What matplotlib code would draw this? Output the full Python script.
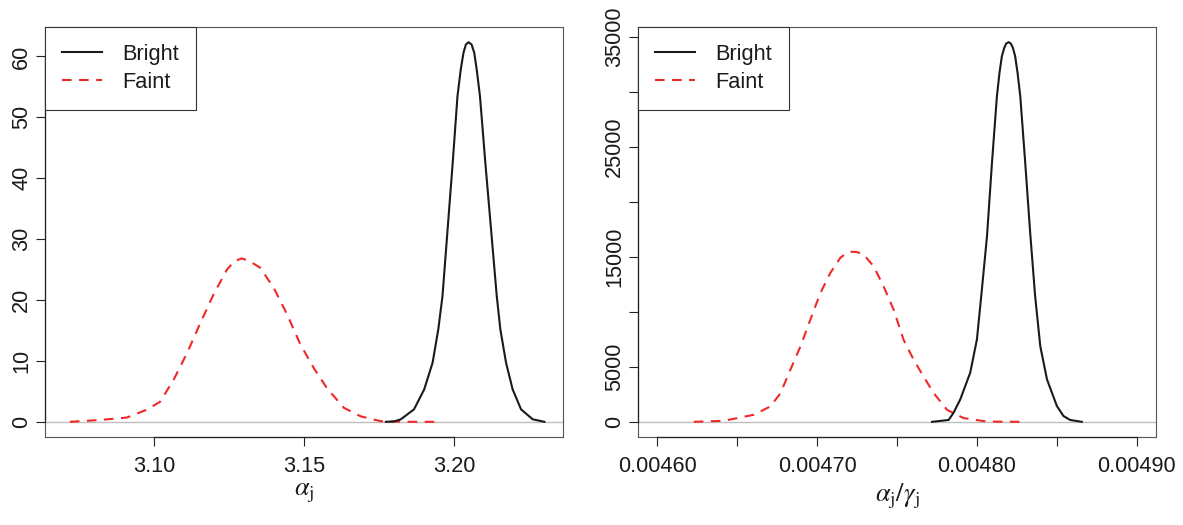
import matplotlib
matplotlib.use("Agg")
import matplotlib.pyplot as plt
from matplotlib.ticker import FixedLocator, FixedFormatter

# ---------------- data ----------------
# Left panel: density of alpha_j
alpha_faint_x = [3.0719, 3.0819, 3.0909, 3.0976, 3.1020, 3.1065, 3.1110, 3.1154,
                 3.1198, 3.1243, 3.1268, 3.1293, 3.1321, 3.1354, 3.1399, 3.1444,
                 3.1488, 3.1533, 3.1577, 3.1633, 3.1689, 3.1756, 3.1850, 3.1938]
alpha_faint_y = [0.0, 0.3, 0.7, 2.0, 3.3, 6.9, 11.3, 16.2, 20.9, 25.0, 26.4, 26.84,
                 26.3, 25.3, 22.0, 17.6, 12.7, 8.8, 5.5, 2.3, 0.9, 0.1, 0.0, 0.0]
alpha_bright_x = [3.1773, 3.1800, 3.1823, 3.1867, 3.1901, 3.1929, 3.1948, 3.1962,
                  3.1979, 3.1996, 3.2012, 3.2023, 3.2032, 3.2040, 3.2049, 3.2059,
                  3.2068, 3.2076, 3.2087, 3.2105, 3.2124, 3.2143, 3.2155, 3.2174,
                  3.2196, 3.2224, 3.2263, 3.2302]
alpha_bright_y = [0.0, 0.05, 0.41, 2.05, 5.33, 9.71, 15.18, 20.65, 31.6, 42.5, 53.5,
                  57.9, 60.6, 61.97, 62.35, 61.97, 60.6, 57.9, 53.5, 42.5, 31.6,
                  20.65, 15.18, 9.71, 5.33, 2.05, 0.41, 0.0]

# Right panel: density of alpha_j / gamma_j
ratio_faint_x = [0.0046229, 0.0046416, 0.0046604, 0.0046708, 0.0046771, 0.0046833,
                 0.0046896, 0.0046958, 0.0047021, 0.0047083, 0.0047146, 0.0047188,
                 0.0047219, 0.0047250, 0.0047291, 0.0047354, 0.0047416, 0.0047479,
                 0.0047541, 0.0047604, 0.0047666, 0.0047729, 0.0047813, 0.0047916,
                 0.0048063, 0.0048291]
ratio_faint_y = [0, 90, 640, 1400, 2600, 4740, 6860, 9300, 11730, 13550, 14935, 15390,
                 15481, 15445, 15220, 14160, 12330, 10210, 7470, 5650, 4130, 2620,
                 1090, 340, 20, 0]
ratio_bright_x = [0.0047719, 0.0047823, 0.0047854, 0.0047896, 0.0047958, 0.0048000,
                  0.0048031, 0.0048063, 0.0048094, 0.0048125, 0.0048141, 0.0048156,
                  0.0048171, 0.0048183, 0.0048198, 0.0048212, 0.0048225, 0.0048239,
                  0.0048254, 0.0048271, 0.0048302, 0.0048333, 0.0048364, 0.0048396,
                  0.0048438, 0.0048500, 0.0048541, 0.0048583, 0.0048656]
ratio_bright_y = [0, 167, 834, 2047, 4472, 7504, 12052, 16900, 23576, 29638, 31761,
                  33276, 34034, 34428, 34549, 34428, 34034, 33276, 31761, 29638,
                  23576, 17209, 11442, 6897, 3866, 1440, 530, 167, 0]

series_labels = ["Bright", "Faint"]

left_xticks = [3.10, 3.15, 3.20]
left_xticklabels = ["3.10", "3.15", "3.20"]
left_yticks = [0, 10, 20, 30, 40, 50, 60]
left_yticklabels = ["0", "10", "20", "30", "40", "50", "60"]
left_xlim_data = (3.07, 3.23)

right_xticks = [0.00460, 0.00465, 0.00470, 0.00475, 0.00480, 0.00485, 0.00490]
right_xticklabels = ["0.00460", "", "0.00470", "", "0.00480", "", "0.00490"]
right_yticks = [0, 5000, 10000, 15000, 20000, 25000, 30000, 35000]
right_yticklabels = ["0", "5000", "", "15000", "", "25000", "", "35000"]
right_xlim_data = (0.0046, 0.0049)

xlabels = [r"$\alpha_\mathrm{j}$", r"$\alpha_\mathrm{j}/\gamma_\mathrm{j}$"]

# ---------------- styling ----------------
plt.rcParams["font.family"] = ["Liberation Sans", "DejaVu Sans"]
plt.rcParams["mathtext.fontset"] = "stix"
FS = 15.7
RED = "#F02828"
BOXC = "#555555"

W, H = 1183, 525
fig = plt.figure(figsize=(W / 100, H / 100), dpi=100)
ax1 = fig.add_axes([45 / W, 1 - 437 / H, 518 / W, 410 / H])
ax2 = fig.add_axes([638 / W, 1 - 437 / H, 518 / W, 410 / H])


def r_lim(lo, hi):
    pad = 0.04 * (hi - lo)
    return lo - pad, hi + pad


def style(ax, fx, fy, bx, by, xt, xtl, yt, ytl, xlim_data, xlabel):
    ax.axhline(0, color="#BEBEBE", lw=1.0, zorder=1)
    ax.plot(bx, by, color="#1a1a1a", lw=1.5, solid_joinstyle="round",
            label=series_labels[0], zorder=3)
    ax.plot(fx, fy, color=RED, lw=1.5, linestyle=(0, (4.6, 3.6)),
            label=series_labels[1], zorder=2)
    ax.set_xlim(*r_lim(*xlim_data))
    ymax = max(max(by), max(fy))
    ax.set_ylim(*r_lim(0, ymax))
    ax.xaxis.set_major_locator(FixedLocator(xt))
    ax.xaxis.set_major_formatter(FixedFormatter(xtl))
    ax.yaxis.set_major_locator(FixedLocator(yt))
    ax.yaxis.set_major_formatter(FixedFormatter(ytl))
    ax.tick_params(axis="both", direction="out", length=6.8, width=0.8,
                   color="#222222", labelsize=FS, labelcolor="#1a1a1a")
    ax.tick_params(axis="x", pad=7)
    ax.tick_params(axis="y", pad=2.5)
    for lab in ax.get_yticklabels():
        lab.set_rotation(90)
        lab.set_va("center")
    for sp in ax.spines.values():
        sp.set_color(BOXC)
        sp.set_linewidth(0.8)
    # R-style axis lines spanning first to last tick
    ax.plot([xt[0], xt[-1]], [0, 0], transform=ax.get_xaxis_transform(),
            color="#222222", lw=0.9, clip_on=False, zorder=5)
    ax.plot([0, 0], [yt[0], yt[-1]], transform=ax.get_yaxis_transform(),
            color="#222222", lw=0.9, clip_on=False, zorder=5)
    ax.set_xlabel(xlabel, fontsize=19, labelpad=3, color="#1a1a1a")
    leg = ax.legend(loc="upper left", bbox_to_anchor=(0, 1), borderaxespad=0,
                    fancybox=False, framealpha=1, edgecolor="#333333",
                    fontsize=FS, handlelength=1.85, handletextpad=0.9,
                    borderpad=0.78, labelspacing=0.3)
    leg.get_frame().set_linewidth(0.8)
    for t in leg.get_texts():
        t.set_color("#1a1a1a")


style(ax1, alpha_faint_x, alpha_faint_y, alpha_bright_x, alpha_bright_y,
      left_xticks, left_xticklabels, left_yticks, left_yticklabels,
      left_xlim_data, xlabels[0])
style(ax2, ratio_faint_x, ratio_faint_y, ratio_bright_x, ratio_bright_y,
      right_xticks, right_xticklabels, right_yticks, right_yticklabels,
      right_xlim_data, xlabels[1])

fig.savefig("out.png", dpi=100)
